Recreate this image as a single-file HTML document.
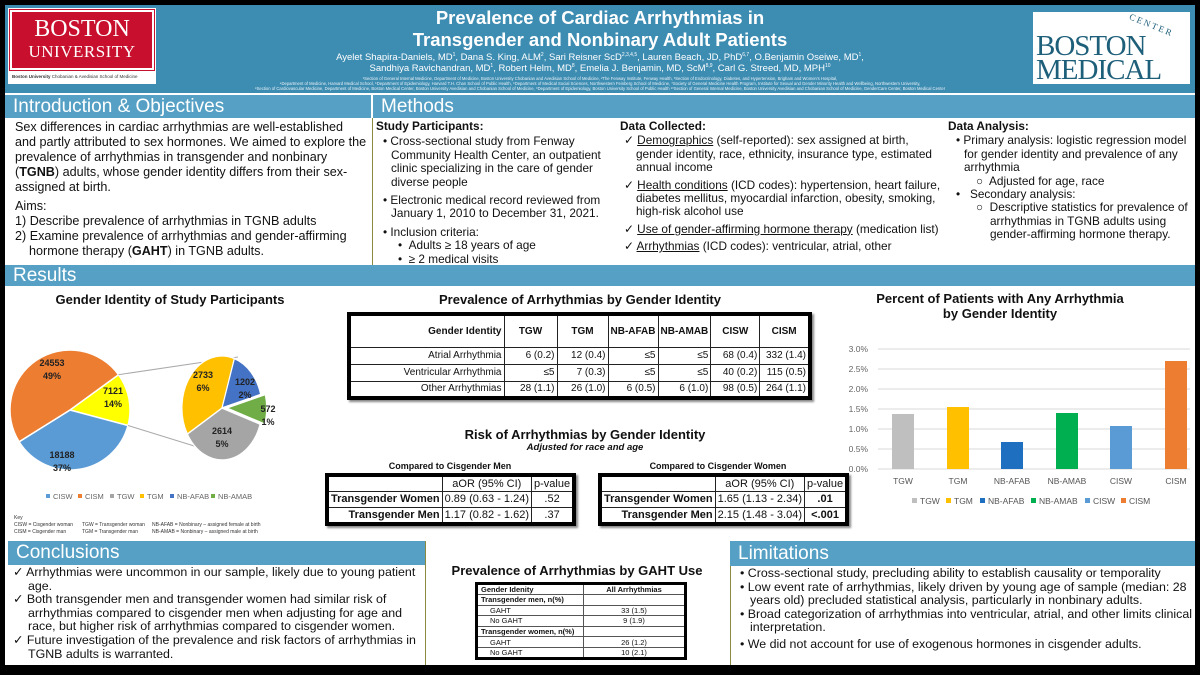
<!DOCTYPE html>
<html><head><meta charset="utf-8">
<style>
*{margin:0;padding:0;box-sizing:border-box}
body{width:1200px;height:675px;background:#000;position:relative;overflow:hidden;font-family:"Liberation Sans",Arial,sans-serif;color:#111}
.a{position:absolute}
.hdr{left:5px;top:5px;width:1190px;height:88px;background:#3d8cb2}
.bar{background:#55a0c4;color:#fff;font-size:19px;padding-left:8px;line-height:23px;font-family:"Liberation Sans",sans-serif;font-weight:normal}
.w{background:#fff}
table{border-collapse:collapse}
.pt td{border:1px solid #222;font-size:10px;text-align:right;padding:0 2px;height:17px;white-space:nowrap}
.pt{border:4px solid #000;box-shadow:2px 2px 2px #888}
.rt{border:4px solid #000;box-shadow:2px 2px 2px #888}
.rt td{border:1px solid #222;font-size:11px;height:16px;white-space:nowrap;padding:0 2px}
.gt{border:3px solid #000}
.gt td{border:1px solid #555;font-size:7.5px;height:10.6px;padding:0 3px;white-space:nowrap}
sup{font-size:5px;line-height:0;vertical-align:0;position:relative;top:-4px}
.ct{font-size:13px;font-weight:bold;text-align:center}
</style></head><body>
<div class="a hdr"></div>
<!-- BU logo -->
<div class="a" style="left:8px;top:8px;width:148px;height:76px;background:#fff"></div>
<div class="a" style="left:10px;top:10px;width:144px;height:60px;background:#c8102e;color:#fff;font-family:'Liberation Serif',serif;text-align:center;border:2px solid #fff;outline:1px solid #c8102e">
<div style="font-size:24px;line-height:26px;margin-top:4px">BOSTON</div>
<div style="font-size:17px;line-height:20px;letter-spacing:0.5px">UNIVERSITY</div></div>
<div class="a" style="left:12px;top:74px;font-size:4.5px;color:#333;white-space:nowrap"><b>Boston University</b> Chobanian &amp; Avedisian School of Medicine</div>
<!-- BMC logo -->
<div class="a" style="left:1033px;top:12px;width:157px;height:72px;background:#fff"></div>
<div class="a" style="left:1036px;top:34px;font-family:'Liberation Serif',serif;color:#1e5f7a;font-size:29px;line-height:24px;letter-spacing:-1px">BOSTON<br>MEDICAL</div>
<div class="a" style="left:1128px;top:20px;font-family:'Liberation Serif',serif;color:#1e5f7a;font-size:9px;letter-spacing:2px;transform:rotate(22deg)">CENTER</div>
<!-- title -->
<div class="a" style="left:300px;top:7px;width:600px;text-align:center;color:#fff;font-weight:bold;font-size:18.5px;line-height:22px">Prevalence of Cardiac Arrhythmias in<br>Transgender and Nonbinary Adult Patients</div>
<div class="a" style="left:250px;top:52px;width:700px;text-align:center;color:#fff;font-size:9.5px;line-height:11px">Ayelet Shapira-Daniels, MD<sup>1</sup>, Dana S. King, ALM<sup>2</sup>, Sari Reisner ScD<sup>2,3,4,5</sup>, Lauren Beach, JD, PhD<sup>6,7</sup>, O.Benjamin Oseiwe, MD<sup>1</sup>,<br>Sandhiya Ravichandran, MD<sup>1</sup>, Robert Helm, MD<sup>8</sup>, Emelia J. Benjamin, MD, ScM<sup>8,9</sup>, Carl G. Streed, MD, MPH<sup>10</sup></div>
<div class="a" style="left:160px;top:76px;width:880px;text-align:center;color:#e8f2f7;font-size:4.2px;line-height:5.2px">¹Section of General Internal Medicine, Department of Medicine, Boston University Chobanian and Avedisian School of Medicine, ²The Fenway Institute, Fenway Health, ³Section of Endocrinology, Diabetes, and Hypertension, Brigham and Women's Hospital,<br>⁴Department of Medicine, Harvard Medical School, ⁵Department of Epidemiology, Harvard T.H. Chan School of Public Health, ⁶Department of Medical Social Sciences, Northwestern Feinberg School of Medicine, ⁷Society of General Medicine Health Program, Institute for Sexual and Gender Minority Health and Wellbeing, Northwestern University,<br>⁸Section of Cardiovascular Medicine, Department of Medicine, Boston Medical Center, Boston University Avedisian and Chobanian School of Medicine, ⁹Department of Epidemiology, Boston University School of Public Health ¹⁰Section of General Internal Medicine, Boston University Avedisian and Chobanian School of Medicine, GenderCare Center, Boston Medical Center</div>

<!-- white body -->
<div class="a w" style="left:5px;top:93px;width:1190px;height:572px"></div>
<div class="a bar" style="left:5px;top:95px;width:366px;height:23px">Introduction &amp; Objectives</div>
<div class="a bar" style="left:373px;top:95px;width:822px;height:23px">Methods</div>
<div class="a" style="left:372px;top:118px;width:1px;height:147px;background:#8a8a40"></div>

<div class="a" style="left:15px;top:120px;width:352px;font-size:12.6px;line-height:15px">Sex differences in cardiac arrhythmias are well-established and partly attributed to sex hormones. We aimed to explore the prevalence of arrhythmias in transgender and nonbinary (<b>TGNB</b>) adults, whose gender identity differs from their sex-assigned at birth.
<div style="margin-top:4px">Aims:</div>
<div>1)&nbsp;Describe prevalence of arrhythmias in TGNB adults</div>
<div style="padding-left:14px;text-indent:-14px">2)&nbsp;Examine prevalence of arrhythmias and gender-affirming hormone therapy (<b>GAHT</b>) in TGNB adults.</div></div>

<div class="a" style="left:376px;top:120px;width:238px;font-size:11.8px;line-height:13.4px">
<b>Study Participants:</b>
<div style="padding-left:15px;text-indent:-8px;margin-top:2px">• Cross-sectional study from Fenway Community Health Center, an outpatient clinic specializing in the care of gender diverse people</div>
<div style="padding-left:15px;text-indent:-8px;margin-top:5px">• Electronic medical record reviewed from January 1, 2010 to December 31, 2021.</div>
<div style="padding-left:15px;text-indent:-8px;margin-top:5px">• Inclusion criteria:</div>
<div style="padding-left:22px">•&nbsp;&nbsp;Adults ≥ 18 years of age</div>
<div style="padding-left:22px">•&nbsp;&nbsp;≥ 2 medical visits</div></div>

<div class="a" style="left:620px;top:120px;width:322px;font-size:11.8px;line-height:13.4px">
<b>Data Collected:</b>
<div style="padding-left:16px;text-indent:-12px;margin-top:1px">✓ <u>Demographics</u> (self-reported): sex assigned at birth, gender identity, race, ethnicity, insurance type, estimated annual income</div>
<div style="padding-left:16px;text-indent:-12px;margin-top:4px">✓ <u>Health conditions</u> (ICD codes): hypertension, heart failure, diabetes mellitus, myocardial infarction, obesity, smoking, high-risk alcohol use</div>
<div style="padding-left:16px;text-indent:-12px;margin-top:4px">✓ <u>Use of gender-affirming hormone therapy</u> (medication list)</div>
<div style="padding-left:16px;text-indent:-12px;margin-top:4px">✓ <u>Arrhythmias</u> (ICD codes): ventricular, atrial, other</div></div>

<div class="a" style="left:948px;top:120px;width:246px;font-size:11.8px;line-height:13.4px">
<b>Data Analysis:</b>
<div style="padding-left:16px;text-indent:-8px;margin-top:1px">• Primary analysis: logistic regression model for gender identity and prevalence of any arrhythmia</div>
<div style="padding-left:28px">○&nbsp; Adjusted for age, race</div>
<div style="padding-left:8px">•&nbsp;&nbsp;&nbsp;Secondary analysis:</div>
<div style="padding-left:42px;text-indent:-14px">○&nbsp; Descriptive statistics for prevalence of arrhythmias in TGNB adults using gender-affirming hormone therapy.</div></div>

<div class="a bar" style="left:5px;top:265px;width:1190px;height:21px;line-height:21px">Results</div>

<!-- Pie chart -->
<div class="a ct" style="left:20px;top:292px;width:300px">Gender Identity of Study Participants</div>
<svg class="a" style="left:0;top:0" width="1200" height="675">
<g stroke="#fff" stroke-width="1.5">
<path d="M70 410 L118.5 374.7 A60 60 0 0 1 128 425.5 Z" fill="#ffff00"/>
<path d="M70 410 L128 425.5 A60 60 0 0 1 19.1 441.8 Z" fill="#5b9bd5"/>
<path d="M70 410 L19.1 441.8 A60 60 0 0 1 118.5 374.7 Z" fill="#ed7d31"/>
</g>
<line x1="118.5" y1="374.7" x2="238" y2="357" stroke="#aaa"/>
<line x1="128" y1="425.5" x2="233" y2="458" stroke="#aaa"/>
<g transform="translate(222,408) scale(0.77,1)" stroke="#fff" stroke-width="1.5">
<path d="M0 0 L49.5 16.1 A52 52 0 0 1 -45 26 Z" fill="#a5a5a5"/>
<path d="M0 0 L-45 26 A52 52 0 0 1 16.1 -49.5 Z" fill="#ffc000"/>
<path d="M0 0 L16.1 -49.5 A52 52 0 0 1 50.2 -13.5 Z" fill="#4472c4"/>
<path d="M6 0 L56.2 -13.5 A52 52 0 0 1 55.5 16.1 Z" fill="#70ad47"/>
</g>
<g font-size="9" font-weight="bold" fill="#222" text-anchor="middle" font-family="Liberation Sans">
<text x="52" y="366">24553</text><text x="52" y="379">49%</text>
<text x="113" y="394">7121</text><text x="113" y="407">14%</text>
<text x="62" y="458">18188</text><text x="62" y="471">37%</text>
<text x="203" y="378">2733</text><text x="203" y="391">6%</text>
<text x="245" y="385">1202</text><text x="245" y="398">2%</text>
<text x="268" y="412">572</text><text x="268" y="425">1%</text>
<text x="222" y="434">2614</text><text x="222" y="447">5%</text>
</g>
<g font-size="7.5" fill="#666" font-family="Liberation Sans">
<rect x="46" y="494" width="4" height="4" fill="#5b9bd5"/><text x="53" y="499">CISW</text>
<rect x="78" y="494" width="4" height="4" fill="#ed7d31"/><text x="85" y="499">CISM</text>
<rect x="110" y="494" width="4" height="4" fill="#a5a5a5"/><text x="117" y="499">TGW</text>
<rect x="140" y="494" width="4" height="4" fill="#ffc000"/><text x="147" y="499">TGM</text>
<rect x="170" y="494" width="4" height="4" fill="#4472c4"/><text x="177" y="499">NB-AFAB</text>
<rect x="211" y="494" width="4" height="4" fill="#70ad47"/><text x="218" y="499">NB-AMAB</text>
</g>
<g font-size="5" fill="#333" font-family="Liberation Sans">
<text x="14" y="519">Key</text>
<text x="14" y="526">CISW = Cisgender woman</text><text x="14" y="533">CISM = Cisgender man</text>
<text x="82" y="526">TGW = Transgender woman</text><text x="82" y="533">TGM = Transgender man</text>
<text x="152" y="526">NB-AFAB = Nonbinary – assigned female at birth</text><text x="152" y="533">NB-AMAB = Nonbinary – assigned male at birth</text>
</g>

<!-- bar chart -->
<g stroke="#d9d9d9" stroke-width="1">
<line x1="878" y1="349" x2="1190" y2="349"/><line x1="878" y1="369" x2="1190" y2="369"/>
<line x1="878" y1="389" x2="1190" y2="389"/><line x1="878" y1="409" x2="1190" y2="409"/>
<line x1="878" y1="429" x2="1190" y2="429"/><line x1="878" y1="449" x2="1190" y2="449"/>
<line x1="878" y1="469" x2="1190" y2="469"/>
</g>
<g font-size="8.5" fill="#666" text-anchor="end" font-family="Liberation Sans">
<text x="868" y="352">3.0%</text><text x="868" y="372">2.5%</text><text x="868" y="392">2.0%</text>
<text x="868" y="412">1.5%</text><text x="868" y="432">1.0%</text><text x="868" y="452">0.5%</text><text x="868" y="472">0.0%</text>
</g>
<rect x="892" y="414" width="22" height="55" fill="#bfbfbf"/>
<rect x="947" y="407" width="22" height="62" fill="#ffc000"/>
<rect x="1001" y="442" width="22" height="27" fill="#1f6fc0"/>
<rect x="1056" y="413" width="22" height="56" fill="#00b050"/>
<rect x="1110" y="426" width="22" height="43" fill="#5b9bd5"/>
<rect x="1165" y="361" width="22" height="108" fill="#ed7d31"/>
<g font-size="8.5" fill="#555" text-anchor="middle" font-family="Liberation Sans">
<text x="903" y="484">TGW</text><text x="958" y="484">TGM</text><text x="1012" y="484">NB-AFAB</text>
<text x="1067" y="484">NB-AMAB</text><text x="1121" y="484">CISW</text><text x="1176" y="484">CISM</text>
</g>
<g font-size="8.5" fill="#555" font-family="Liberation Sans">
<rect x="912" y="498" width="5" height="5" fill="#bfbfbf"/><text x="920" y="504">TGW</text>
<rect x="946" y="498" width="5" height="5" fill="#ffc000"/><text x="954" y="504">TGM</text>
<rect x="980" y="498" width="5" height="5" fill="#1f6fc0"/><text x="988" y="504">NB-AFAB</text>
<rect x="1031" y="498" width="5" height="5" fill="#00b050"/><text x="1039" y="504">NB-AMAB</text>
<rect x="1085" y="498" width="5" height="5" fill="#5b9bd5"/><text x="1093" y="504">CISW</text>
<rect x="1121" y="498" width="5" height="5" fill="#ed7d31"/><text x="1129" y="504">CISM</text>
</g>
</svg>
<div class="a ct" style="left:850px;top:291px;width:300px;line-height:15px">Percent of Patients with Any Arrhythmia<br>by Gender Identity</div>

<!-- prevalence table -->
<div class="a ct" style="left:380px;top:292px;width:400px">Prevalence of Arrhythmias by Gender Identity</div>
<table class="a pt" style="left:347px;top:312px;width:465px;height:85px">
<tr style="height:33px;font-weight:bold"><td style="width:155px;font-weight:bold">Gender Identity</td><td style="width:53px;text-align:center;font-weight:bold">TGW</td><td style="width:51px;text-align:center;font-weight:bold">TGM</td><td style="width:48px;text-align:center;font-weight:bold">NB-AFAB</td><td style="width:52px;text-align:center;font-weight:bold">NB-AMAB</td><td style="width:49px;text-align:center;font-weight:bold">CISW</td><td style="text-align:center;font-weight:bold">CISM</td></tr>
<tr><td>Atrial Arrhythmia</td><td>6 (0.2)</td><td>12 (0.4)</td><td>≤5</td><td>≤5</td><td>68 (0.4)</td><td>332 (1.4)</td></tr>
<tr><td>Ventricular Arrhythmia</td><td>≤5</td><td>7 (0.3)</td><td>≤5</td><td>≤5</td><td>40 (0.2)</td><td>115 (0.5)</td></tr>
<tr><td>Other Arrhythmias</td><td>28 (1.1)</td><td>26 (1.0)</td><td>6 (0.5)</td><td>6 (1.0)</td><td>98 (0.5)</td><td>264 (1.1)</td></tr>
</table>

<div class="a ct" style="left:385px;top:427px;width:400px">Risk of Arrhythmias by Gender Identity</div>
<div class="a" style="left:385px;top:442px;width:400px;text-align:center;font-size:9.5px;font-weight:bold;font-style:italic">Adjusted for race and age</div>
<div class="a" style="left:325px;top:461px;width:250px;text-align:center;font-size:9px;font-weight:bold">Compared to Cisgender Men</div>
<div class="a" style="left:598px;top:461px;width:240px;text-align:center;font-size:9px;font-weight:bold">Compared to Cisgender Women</div>
<table class="a rt" style="left:325px;top:473px;width:250px;height:53px">
<tr><td style="width:120px"></td><td style="width:88px;text-align:center">aOR (95% CI)</td><td style="text-align:center">p-value</td></tr>
<tr><td style="text-align:right;font-weight:bold">Transgender Women</td><td>0.89 (0.63 - 1.24)</td><td style="text-align:center">.52</td></tr>
<tr><td style="text-align:right;font-weight:bold">Transgender Men</td><td>1.17 (0.82 - 1.62)</td><td style="text-align:center">.37</td></tr>
</table>
<table class="a rt" style="left:598px;top:473px;width:240px;height:53px">
<tr><td style="width:117px"></td><td style="width:85px;text-align:center">aOR (95% CI)</td><td style="text-align:center">p-value</td></tr>
<tr><td style="text-align:right;font-weight:bold">Transgender Women</td><td>1.65 (1.13 - 2.34)</td><td style="text-align:center;font-weight:bold">.01</td></tr>
<tr><td style="text-align:right;font-weight:bold">Transgender Men</td><td>2.15 (1.48 - 3.04)</td><td style="text-align:center;font-weight:bold">&lt;.001</td></tr>
</table>

<!-- Conclusions -->
<div class="a bar" style="left:8px;top:541px;width:417px;height:24px;line-height:24px">Conclusions</div>
<div class="a" style="left:425px;top:541px;width:1px;height:124px;background:#8a8a40"></div>
<div class="a" style="left:12px;top:566px;width:415px;font-size:12.4px;line-height:13.6px">
<div style="padding-left:16px;text-indent:-15px">✓ Arrhythmias were uncommon in our sample, likely due to young patient age.</div>
<div style="padding-left:16px;text-indent:-15px">✓ Both transgender men and transgender women had similar risk of arrhythmias compared to cisgender men when adjusting for age and race, but higher risk of arrhythmias compared to cisgender women.</div>
<div style="padding-left:16px;text-indent:-15px">✓ Future investigation of the prevalence and risk factors of arrhythmias in TGNB adults is warranted.</div></div>

<!-- GAHT -->
<div class="a ct" style="left:427px;top:563px;width:300px">Prevalence of Arrhythmias by GAHT Use</div>
<table class="a gt" style="left:475px;top:582px;width:212px;height:76px">
<tr><td style="width:107px;font-weight:bold">Gender Idenity</td><td style="text-align:center;font-weight:bold">All Arrhythmias</td></tr>
<tr><td style="font-weight:bold">Transgender men, n(%)</td><td></td></tr>
<tr><td style="padding-left:12px">GAHT</td><td style="text-align:center">33 (1.5)</td></tr>
<tr><td style="padding-left:12px">No GAHT</td><td style="text-align:center">9 (1.9)</td></tr>
<tr><td style="font-weight:bold">Transgender women, n(%)</td><td></td></tr>
<tr><td style="padding-left:12px">GAHT</td><td style="text-align:center">26 (1.2)</td></tr>
<tr><td style="padding-left:12px">No GAHT</td><td style="text-align:center">10 (2.1)</td></tr>
</table>

<!-- Limitations -->
<div class="a bar" style="left:730px;top:541px;width:465px;height:25px;line-height:25px">Limitations</div>
<div class="a" style="left:730px;top:566px;width:1px;height:99px;background:#8a8a40"></div>
<div class="a" style="left:738px;top:567px;width:460px;font-size:12.4px;line-height:13.6px">
<div style="padding-left:12px;text-indent:-10px">• Cross-sectional study, precluding ability to establish causality or temporality</div>
<div style="padding-left:12px;text-indent:-10px">• Low event rate of arrhythmias, likely driven by young age of sample (median: 28 years old) precluded statistical analysis, particularly in nonbinary adults.</div>
<div style="padding-left:12px;text-indent:-10px">• Broad categorization of arrhythmias into ventricular, atrial, and other limits clinical interpretation.</div>
<div style="padding-left:12px;text-indent:-10px;margin-top:3px">• We did not account for use of exogenous hormones in cisgender adults.</div></div>
</body></html>
